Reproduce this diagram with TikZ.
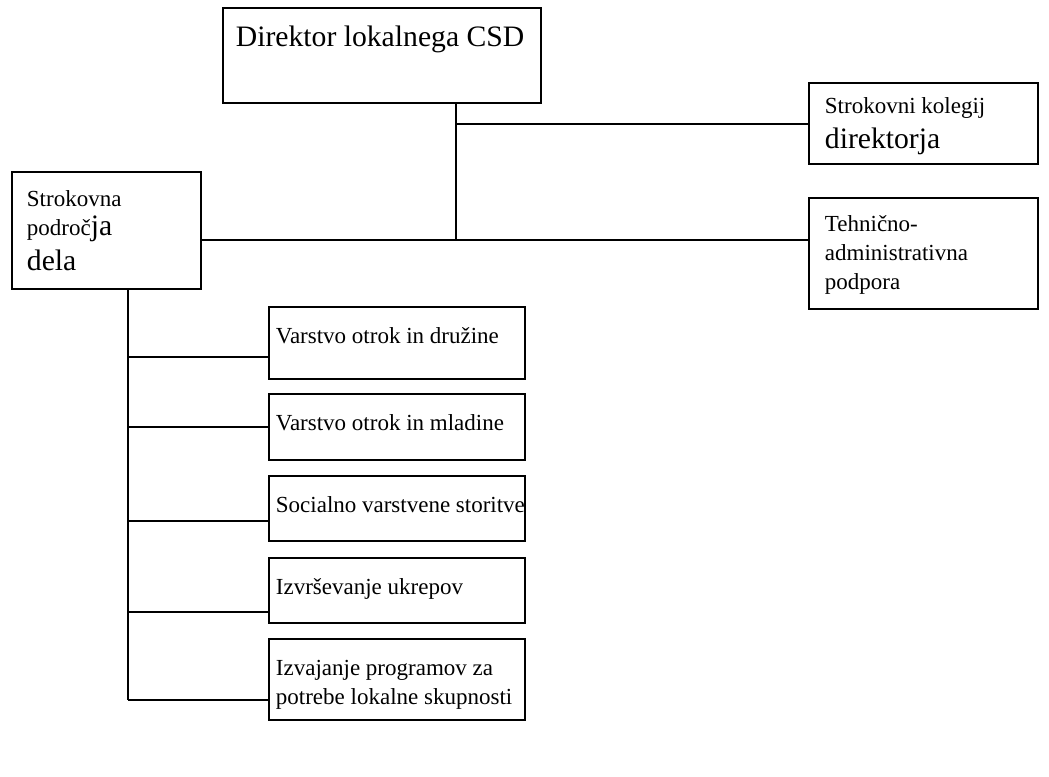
\documentclass[tikz,border=0pt]{standalone}
\usepackage{fontspec}
\setmainfont{Liberation Serif}
\newdimen\pxu \pxu=0.75pt
\newcommand\fsm{\fontsize{17.25pt}{21.75pt}\selectfont}
\newcommand\fbg{\fontsize{22.25pt}{26.25pt}\selectfont}
% width, height, left pad, top pad, text
\newcommand\bt[5]{\begin{minipage}[c][#2\pxu][t]{#1\pxu}\vspace*{#4\pxu}\leftskip=#3\pxu\relax\parindent=0pt #5\end{minipage}}
\tikzset{
  box/.style={draw, line width=1.4pt, inner sep=0pt, anchor=north west},
  conn/.style={line width=1.4pt}
}
\begin{document}
\begin{tikzpicture}[x=0.75pt, y=-0.75pt]
\useasboundingbox (0,0) rectangle (1049,776);
\node[box] (dir) at (222,7) {\bt{318}{95}{13}{14}{\fbg\strut Direktor lokalnega CSD\par}};
\node[box] (kol) at (808,82) {\bt{229}{81}{16}{10}{\fsm\strut Strokovni kolegij\par\fbg direktorja\par}};
\node[box] (teh) at (808,197) {\bt{229}{111}{16}{13}{\fsm\strut Tehnično-\par administrativna\par podpora\par}};
\node[box] (str) at (11,171) {\bt{189}{117}{15}{14}{\fsm\strut Strokovna\par področ{\fbg ja}\par\fbg dela\par}};
\node[box] (b1) at (268,306) {\bt{256}{72}{7}{16}{\fsm\strut Varstvo otrok in družine\par}};
\node[box] (b2) at (268,393) {\bt{256}{66}{7}{16}{\fsm\strut Varstvo otrok in mladine\par}};
\node[box] (b3) at (268,475) {\bt{256}{65}{7}{16}{\fsm\strut Socialno varstvene storitve\par}};
\node[box] (b4) at (268,557) {\bt{256}{65}{7}{16}{\fsm\strut Izvrševanje ukrepov\par}};
\node[box] (b5) at (268,638) {\bt{256}{81}{7}{16}{\fsm\strut Izvajanje programov za\par potrebe lokalne skupnosti\par}};
\coordinate (j1) at (456,124);
\coordinate (j2) at (456,240);
\coordinate (l0) at (128,288);
\coordinate (l1) at (128,357);
\coordinate (l2) at (128,427);
\coordinate (l3) at (128,521);
\coordinate (l4) at (128,612);
\coordinate (l5) at (128,700);
\draw[conn] (dir.south -| j1) -- (j2);
\draw[conn] (j1) -- (kol.west |- j1);
\draw[conn] (str.east |- j2) -- (teh.west |- j2);
\draw[conn] (str.south -| l0) -- (l5);
\draw[conn] (l1) -- (b1.west |- l1);
\draw[conn] (l2) -- (b2.west |- l2);
\draw[conn] (l3) -- (b3.west |- l3);
\draw[conn] (l4) -- (b4.west |- l4);
\draw[conn] (l5) -- (b5.west |- l5);
\end{tikzpicture}
\end{document}
